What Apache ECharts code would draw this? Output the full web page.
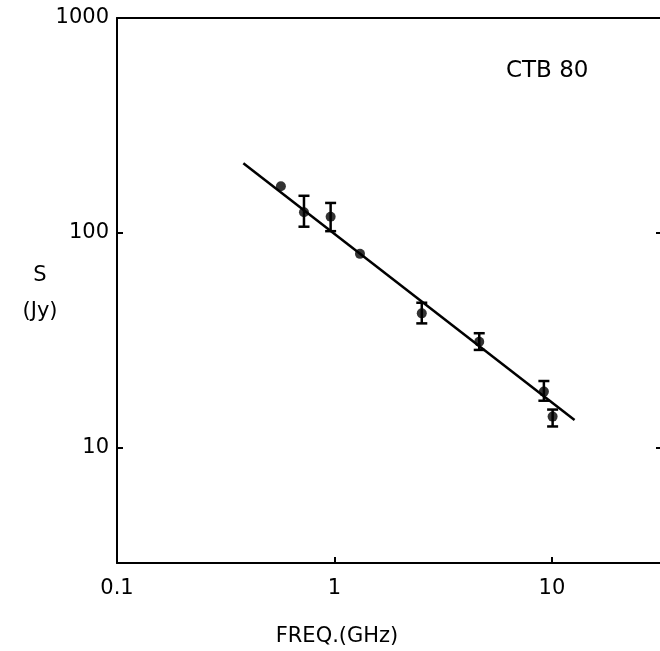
<!DOCTYPE html>
<html>
<head>
<meta charset="utf-8">
<script src="https://cdn.jsdelivr.net/npm/echarts@6/dist/echarts.min.js"></script>
<style>
html,body{margin:0;padding:0;background:#fff;}
#chart{width:660px;height:651px;}
</style>
</head>
<body>
<div id="chart"></div>
<script>
//频率(GHz)
var freq = [0.567, 0.724, 0.96, 1.31, 2.52, 4.63, 9.18, 10.07];
//流量(Jy)
var flux = [165, 125, 119, 80, 42.3, 31.2, 18.3, 14.0];
//误差棒上下限, null表示没有误差棒
var fluxHigh = [null, 149, 138, null, 47.4, 34.2, 20.5, 15.1];
var fluxLow = [null, 107, 102, null, 38.0, 28.6, 16.6, 12.6];
//拟合直线两端
var fitFreq = [0.381, 12.7];
var fitFlux = [211, 13.5];
//刻度标签
var xTicks = [0.1, 1, 10];
var yTicks = [10, 100, 1000];
var xTickText = ['0.1', '1', '10'];
var yTickText = ['10', '100', '1000'];

var font = 'DejaVu Sans';
var myChart = echarts.init(document.getElementById('chart'));

function tickLabel(list, text)
{
	return function(v)
	{
		for(var i=0;i<list.length;i++)
		{
			if(Math.abs(Math.log10(v) - Math.log10(list[i])) < 0.01)
			{
				return text[i];
			}
		}
		return '';
	};
}

var points = [];
var bars = [];
for(var i=0;i<freq.length;i++)
{
	points.push([freq[i], flux[i]]);
	if(fluxHigh[i] != null)
	{
		bars.push([freq[i], fluxLow[i], fluxHigh[i]]);
	}
}
var fitData = [];
for(var i=0;i<fitFreq.length;i++)
{
	fitData.push([fitFreq[i], fitFlux[i]]);
}

var axisLine = {show: true, lineStyle: {color: '#000', width: 2}};
var option = {
	backgroundColor: '#fff',
	animation: false,
	//右边框在画面外
	grid: {left: 117, right: -3, top: 18, bottom: 88, outerBoundsMode: 'none'},
	xAxis: [{
		type: 'log',
		logBase: 10,
		min: 0.1,
		max: 32.4,
		axisLine: axisLine,
		axisTick: {show: true, inside: true, length: 6, lineStyle: {color: '#000', width: 2}},
		axisLabel: {
			margin: 15, color: '#000', fontFamily: font, fontSize: 21,
			showMaxLabel: false,
			formatter: tickLabel(xTicks, xTickText)
		},
		splitLine: {show: false}
	}, {
		type: 'log',
		logBase: 10,
		min: 0.1,
		max: 32.4,
		position: 'top',
		axisLine: axisLine,
		axisTick: {show: false},
		axisLabel: {show: false},
		splitLine: {show: false}
	}],
	yAxis: [{
		type: 'log',
		logBase: 10,
		min: 2.92,
		max: 1000,
		axisLine: axisLine,
		axisTick: {show: true, inside: true, length: 6, lineStyle: {color: '#000', width: 2}},
		axisLabel: {
			margin: 8, color: '#000', fontFamily: font, fontSize: 21,
			showMinLabel: false,
			formatter: tickLabel(yTicks, yTickText)
		},
		splitLine: {show: false}
	}, {
		type: 'log',
		logBase: 10,
		min: 2.92,
		max: 1000,
		position: 'right',
		axisLine: axisLine,
		axisTick: {show: true, inside: true, length: 7, lineStyle: {color: '#000', width: 2}},
		axisLabel: {show: false},
		splitLine: {show: false}
	}],
	graphic: [{
		type: 'text',
		left: 506,
		top: 60,
		style: {text: 'CTB 80', fill: '#000', font: '23px ' + font}
	}, {
		type: 'text',
		x: 337,
		y: 637,
		style: {text: 'FREQ.(GHz)', fill: '#000', font: '21px ' + font, align: 'center', verticalAlign: 'middle'}
	}, {
		type: 'text',
		x: 40,
		y: 276,
		style: {text: 'S', fill: '#000', font: '21px ' + font, align: 'center', verticalAlign: 'middle'}
	}, {
		type: 'text',
		x: 40,
		y: 312,
		style: {text: '(Jy)', fill: '#000', font: '21px ' + font, align: 'center', verticalAlign: 'middle'}
	}],
	series: [{
		//拟合直线
		type: 'line',
		data: fitData,
		symbol: 'none',
		lineStyle: {color: '#000', width: 2.5}
	}, {
		//误差棒
		type: 'custom',
		data: bars,
		renderItem: function(params, api)
		{
			var low = api.coord([api.value(0), api.value(1)]);
			var high = api.coord([api.value(0), api.value(2)]);
			var cap = 5.5;
			var style = {stroke: '#000', lineWidth: 2.5};
			return {
				type: 'group',
				children: [
					{type: 'line', shape: {x1: low[0], y1: low[1], x2: high[0], y2: high[1]}, style: style},
					{type: 'line', shape: {x1: low[0]-cap, y1: low[1], x2: low[0]+cap, y2: low[1]}, style: style},
					{type: 'line', shape: {x1: high[0]-cap, y1: high[1], x2: high[0]+cap, y2: high[1]}, style: style}
				]
			};
		}
	}, {
		//测量点
		type: 'scatter',
		data: points,
		symbol: 'circle',
		symbolSize: 10,
		itemStyle: {color: '#000'}
	}]
};
myChart.setOption(option);
</script>
</body>
</html>
